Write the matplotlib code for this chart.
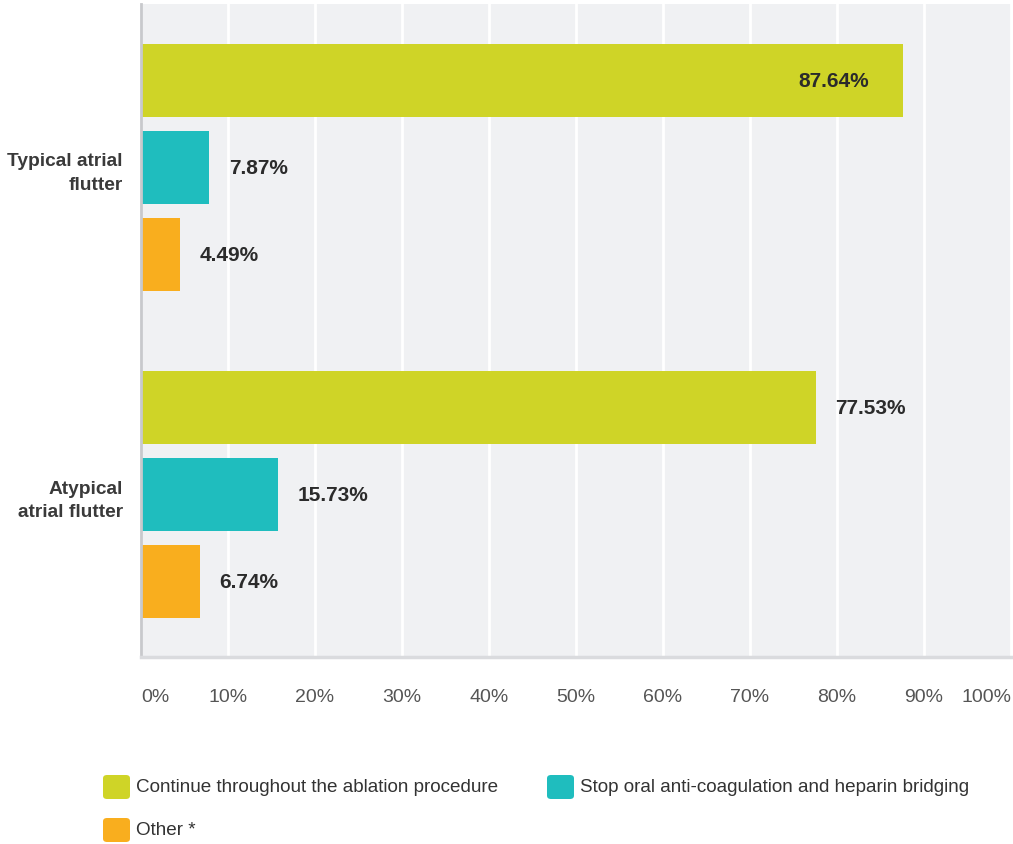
import matplotlib.pyplot as plt
from matplotlib.patches import FancyBboxPatch

plt.rcParams['font.family'] = ['Liberation Sans', 'DejaVu Sans']

categories = ["Typical atrial\nflutter", "Atypical\natrial flutter"]
series_names = ["Continue throughout the ablation procedure",
                "Stop oral anti-coagulation and heparin bridging",
                "Other *"]
values = [
    [87.64, 7.87, 4.49],    # Typical atrial flutter
    [77.53, 15.73, 6.74],   # Atypical atrial flutter
]
colors = ["#CFD427", "#1FBDBE", "#F9AE1E"]
tick_labels = ["0%", "10%", "20%", "30%", "40%", "50%", "60%", "70%", "80%", "90%", "100%"]

W, H = 1013, 845
fig = plt.figure(figsize=(W / 100, H / 100), dpi=100)
ax = fig.add_axes([141 / W, 1 - 658 / H, (1011 - 141) / W, (658 - 5) / H])
ax.set_facecolor("#F0F1F3")

group_gap = 3.76
bar_h = 0.84
for i, cat in enumerate(categories):
    for j, v in enumerate(values[i]):
        y = i * group_gap + j
        ax.barh(y, v, height=bar_h, color=colors[j], zorder=2)
        label = f"{v:.2f}%"
        if v > 85:
            ax.text(v - 4, y, label, ha="right", va="center", fontsize=15,
                    fontweight="bold", color="#2b2b2b", zorder=3)
        else:
            ax.text(v + 2.3, y, label, ha="left", va="center", fontsize=15,
                    fontweight="bold", color="#2b2b2b", zorder=3)

ax.set_ylim(2 + group_gap + 0.868, -0.879)
ax.set_xlim(0, 100)
ax.set_yticks([i * group_gap + 1 for i in range(len(categories))])
ax.set_yticklabels(categories, fontsize=13.8, fontweight="bold", color="#3a3a3a",
                   linespacing=1.5)
ax.tick_params(axis="y", length=0, pad=13)

ax.set_xticks(range(0, 101, 10))
ax.set_xticklabels(tick_labels, fontsize=14, color="#555555")
ax.tick_params(axis="x", length=0, pad=22)
xl = ax.get_xticklabels()
xl[0].set_horizontalalignment("left")
xl[-1].set_horizontalalignment("right")

ax.grid(axis="x", color="white", linewidth=2, zorder=1)
for s in ["top", "right"]:
    ax.spines[s].set_visible(False)
ax.spines["left"].set_color("#C8C9CC")
ax.spines["left"].set_linewidth(2)
ax.spines["bottom"].set_color("#DADBDE")
ax.spines["bottom"].set_linewidth(2.5)

# legend built by hand: rounded swatches and labels
legend_pos = [(103, 788), (547, 788), (103, 831)]
for (px, py), name, c in zip(legend_pos, series_names, colors):
    sw = FancyBboxPatch(((px) / W, 1 - (py + 12) / H), 27 / W, 24 / H,
                        boxstyle="round,pad=0,rounding_size=0.004",
                        transform=fig.transFigure, facecolor=c, edgecolor="none")
    fig.patches.append(sw)
    fig.text((px + 33) / W, 1 - py / H, name, ha="left", va="center",
             fontsize=13.6, color="#333333")

fig.savefig("out.png", dpi=100)
